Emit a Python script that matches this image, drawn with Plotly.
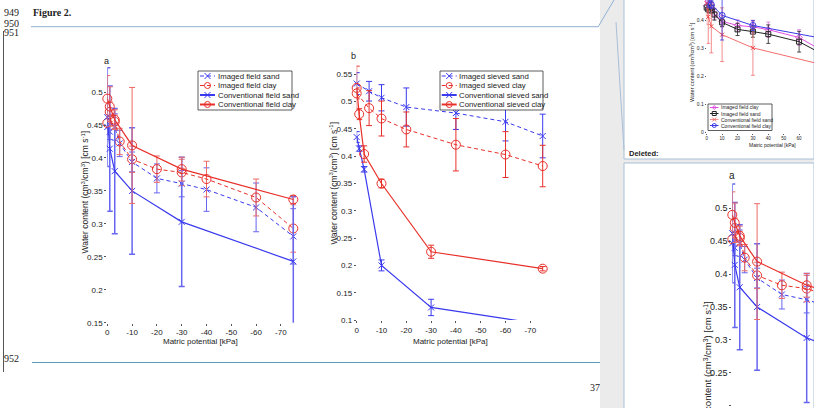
import plotly.graph_objects as go

W, H = 814, 408

# ---------------- Panel a : field samples ----------------
X_A_IMAGED = [0, -1, -3, -5, -10, -20, -30, -40, -60, -75]
X_A_CONV = [0, -1, -3, -10, -30, -75]
A_IMAGED_SAND = [0.447, 0.440, 0.447, 0.422, 0.394, 0.369, 0.361, 0.352, 0.325, 0.281]
A_IMAGED_SAND_ERR = [0.012, 0.012, 0.020, 0.020, 0.015, 0.022, 0.020, 0.033, 0.037, 0.042]
A_IMAGED_CLAY = [0.453, 0.470, 0.455, 0.425, 0.398, 0.383, 0.378, 0.368, 0.340, 0.293]
A_IMAGED_CLAY_ERR = [0.010, 0.015, 0.010, 0.020, 0.020, 0.020, 0.020, 0.027, 0.028, 0.036]
A_CONV_SAND = [0.462, 0.414, 0.380, 0.350, 0.303, 0.243]
A_CONV_SAND_ERR = [0.075, 0.095, 0.095, 0.096, 0.098, 0.098]
A_CONV_CLAY = [0.490, 0.478, 0.458, 0.419, 0.383, 0.337]
A_CONV_CLAY_ERR = [0.035, 0.030, 0.015, 0.088, 0.018, 0.006]
A_NAMES = ["Imaged field sand", "Imaged field clay", "Conventional field sand", "Conventional field clay"]

# ---------------- Panel b : sieved samples ----------------
X_B_IMAGED = [0, -5, -10, -20, -40, -60, -75]
X_B_CONV = [0, -1, -3, -10, -30, -75]
B_IMAGED_SAND = [0.533, 0.519, 0.507, 0.490, 0.479, 0.463, 0.437]
B_IMAGED_SAND_ERR = [0.020, 0.018, 0.024, 0.035, 0.030, 0.035, 0.040]
B_IMAGED_CLAY = [0.515, 0.488, 0.469, 0.449, 0.421, 0.403, 0.382]
B_IMAGED_CLAY_ERR = [0.010, 0.032, 0.032, 0.032, 0.048, 0.042, 0.038]
B_CONV_SAND = [0.435, 0.414, 0.376, 0.200, 0.123, 0.092]
B_CONV_SAND_ERR = [0.010, 0.005, 0.005, 0.010, 0.015, 0.002]
B_CONV_CLAY = [0.525, 0.477, 0.404, 0.350, 0.225, 0.194]
B_CONV_CLAY_ERR = [0.040, 0.010, 0.015, 0.008, 0.012, 0.004]
B_NAMES = ["Imaged sieved sand", "Imaged sieved clay", "Conventional sieved sand", "Conventional sieved clay"]

# ---------------- tick labels ----------------
X_TICKS = [0, -10, -20, -30, -40, -50, -60, -70]
X_TICK_LABELS = ["0", "-10", "-20", "-30", "-40", "-50", "-60", "-70"]
Y_TICKS_A = [0.15, 0.2, 0.25, 0.3, 0.35, 0.4, 0.45, 0.5]
Y_TICK_LABELS_A = ["0.15", "0.2", "0.25", "0.3", "0.35", "0.4", "0.45", "0.5"]
Y_TICKS_B = [0.1, 0.15, 0.2, 0.25, 0.3, 0.35, 0.4, 0.45, 0.5, 0.55]
Y_TICK_LABELS_B = ["0.1", "0.15", "0.2", "0.25", "0.3", "0.35", "0.4", "0.45", "0.5", "0.55"]
# earlier version shown in the comment pane (positive potentials)
OLD_X_TICKS = [0, 10, 20, 30, 40, 50, 60]
OLD_X_TICK_LABELS = ["0", "10", "20", "30", "40", "50", "60"]
OLD_Y_TICKS = [0, 0.1, 0.2, 0.3, 0.4]
OLD_Y_TICK_LABELS = ["0", "0.1", "0.2", "0.3", "0.4"]
OLD_NAMES = ["Imaged field clay", "Imaged field sand", "Conventional field sand", "Conventional field clay"]

FONT = "Liberation Sans, Arial, sans-serif"
TICKFONT = "Liberation Sans Narrow, Arial Narrow, Liberation Sans, sans-serif"
SERIF = "Liberation Serif, Times New Roman, serif"
BLUE = "#3a3aee"
BLUE_ERR = "#6666f0"
RED = "#e8302a"
RED_ERR = "#ee6a66"
DASH = "4px,3px"


def px(x):
    return x / W


def py(y):
    return 1 - y / H


fig = go.Figure()


def series(x, y, err, xa, ya, color, ecolor, dash, width, symbol, msize, ewidth=1.0, ecap=3):
    fig.add_trace(go.Scatter(
        x=x, y=y, xaxis=xa, yaxis=ya, mode="lines+markers",
        line=dict(color=color, width=width, dash=dash),
        marker=dict(symbol=symbol, size=msize, color=color, line=dict(width=1, color=color)),
        error_y=dict(type="data", array=err, visible=True, color=ecolor, thickness=ewidth, width=ecap),
        cliponaxis=False, showlegend=False, hoverinfo="skip"))


def neg(v):
    return [-a for a in v]


# panel a
series(X_A_IMAGED, A_IMAGED_SAND, A_IMAGED_SAND_ERR, "x", "y", BLUE, BLUE_ERR, DASH, 1, "x-thin", 6)
series(X_A_IMAGED, A_IMAGED_CLAY, A_IMAGED_CLAY_ERR, "x", "y", RED, RED_ERR, DASH, 1, "circle-open", 9)
series(X_A_CONV, A_CONV_SAND, A_CONV_SAND_ERR, "x", "y", BLUE, BLUE_ERR, "solid", 1.2, "x-thin", 6, 1.5)
series(X_A_CONV, A_CONV_CLAY, A_CONV_CLAY_ERR, "x", "y", RED, RED_ERR, "solid", 1.2, "circle-open", 9)
# panel b
series(X_B_IMAGED, B_IMAGED_SAND, B_IMAGED_SAND_ERR, "x2", "y2", BLUE, BLUE, DASH, 1, "x-thin", 6)
series(X_B_IMAGED, B_IMAGED_CLAY, B_IMAGED_CLAY_ERR, "x2", "y2", RED, RED, DASH, 1, "circle-open", 9)
series(X_B_CONV, B_CONV_SAND, B_CONV_SAND_ERR, "x2", "y2", BLUE, BLUE, "solid", 1.2, "x-thin", 6)
series(X_B_CONV, B_CONV_CLAY, B_CONV_CLAY_ERR, "x2", "y2", RED, RED, "solid", 1.2, "circle-open", 9)
# comment pane, earlier version (top right)
series(neg(X_A_IMAGED), A_IMAGED_CLAY, A_IMAGED_CLAY_ERR, "x3", "y3", "#e050e0", "#e070e0", "solid", 1, "diamond-open", 5, 0.8, 2)
series(neg(X_A_IMAGED), A_IMAGED_SAND, A_IMAGED_SAND_ERR, "x3", "y3", "#222222", "#222222", "solid", 1, "square-open", 5, 0.8, 2)
series(neg(X_A_CONV), A_CONV_SAND, A_CONV_SAND_ERR, "x3", "y3", "#f04848", "#f07070", "solid", 0.8, "x-thin", 4, 0.8, 2)
series(neg(X_A_CONV), A_CONV_CLAY, A_CONV_CLAY_ERR, "x3", "y3", "#3a3ae8", "#3a3ae8", "solid", 1, "circle-open", 6, 0.8, 2)
# comment pane, panel a again (bottom right)
series(X_A_IMAGED, A_IMAGED_SAND, A_IMAGED_SAND_ERR, "x4", "y4", BLUE, BLUE_ERR, DASH, 1, "x-thin", 6)
series(X_A_IMAGED, A_IMAGED_CLAY, A_IMAGED_CLAY_ERR, "x4", "y4", RED, RED_ERR, DASH, 1, "circle-open", 9)
series(X_A_CONV, A_CONV_SAND, A_CONV_SAND_ERR, "x4", "y4", BLUE, BLUE_ERR, "solid", 1.2, "x-thin", 6, 1.5)
series(X_A_CONV, A_CONV_CLAY, A_CONV_CLAY_ERR, "x4", "y4", RED, RED_ERR, "solid", 1.2, "circle-open", 9)


def ax(domain, rng, tv, tt, fsize, anchor, ticklen=2, show=True):
    return dict(domain=domain, range=rng, tickvals=tv, ticktext=tt, anchor=anchor,
                showline=False, showgrid=False, zeroline=False, ticks="outside",
                ticklen=ticklen, tickwidth=1, tickcolor="#555", automargin=False,
                showticklabels=show,
                tickfont=dict(family=TICKFONT, size=fsize, color="#222"), fixedrange=True)


# pixel geometry of each panel
A_X0, A_SCALE = 107.3, 2.48          # px of x=0, px per kPa
A_Y0, A_YS = 92.0, 658.0             # px of y=0.5, px per unit
B_X0, B_Y0, B_YS = 356.7, 74.3, 546.0  # px of x=0, px of y=0.55, px per unit
S_X0, S_Y0 = 732.3, 208.3            # side copy of panel a
O_X0, O_XS, O_Y0, O_YS = 706.7, 1.54, 132.7, 280.0  # earlier version

layout_axes = dict(
    xaxis=ax([px(A_X0), px(296)], [0, -(296 - A_X0) / A_SCALE], X_TICKS, X_TICK_LABELS, 8, "y"),
    yaxis=ax([py(322.7), py(59.5)], [0.15, 0.5 + (A_Y0 - 59.5) / A_YS], Y_TICKS_A, Y_TICK_LABELS_A, 8, "x"),
    xaxis2=ax([px(B_X0), px(546)], [0, -(546 - B_X0) / A_SCALE], X_TICKS, X_TICK_LABELS, 8, "y2"),
    yaxis2=ax([py(320), py(60.7)], [0.55 - (320 - B_Y0) / B_YS, 0.55 + (B_Y0 - 60.7) / B_YS], Y_TICKS_B, Y_TICK_LABELS_B, 8, "x2"),
    xaxis3=ax([px(O_X0), 1.0], [0, (814 - O_X0) / O_XS], OLD_X_TICKS, OLD_X_TICK_LABELS, 4.5, "y3", 1),
    yaxis3=ax([py(O_Y0), 1.0], [0, O_Y0 / O_YS], OLD_Y_TICKS, OLD_Y_TICK_LABELS, 5, "x3", 1),
    xaxis4=ax([px(S_X0), 1.0], [0, -(814 - S_X0) / A_SCALE], X_TICKS, X_TICK_LABELS, 9, "y4", 3, False),
    yaxis4=ax([0.0, py(168)], [0.5 - (408 - S_Y0) / A_YS, 0.5 + (S_Y0 - 168) / A_YS], Y_TICKS_A, Y_TICK_LABELS_A, 9, "x4", 2),
)

shapes = []
annotations = []


def line(x0, y0, x1, y1, color, width=1, dash="solid", layer="above"):
    shapes.append(dict(type="line", xref="paper", yref="paper", x0=px(x0), y0=py(y0), x1=px(x1), y1=py(y1),
                       line=dict(color=color, width=width, dash=dash), layer=layer))


def rect(x0, y0, x1, y1, fill, lc=None, lw=1, layer="below"):
    shapes.append(dict(type="rect", xref="paper", yref="paper", x0=px(x0), y0=py(y1), x1=px(x1), y1=py(y0),
                       fillcolor=fill, line=dict(color=lc or fill, width=lw if lc else 0), layer=layer))


def text(x, y, s, size, family=FONT, xanchor="center", angle=0, color="#222"):
    annotations.append(dict(x=px(x), y=py(y), xref="paper", yref="paper", text=s, showarrow=False,
                            font=dict(family=family, size=size, color=color), xanchor=xanchor,
                            yanchor="middle", textangle=angle, borderpad=0))


def marker_shape(cx, cy, kind, r, color):
    if kind == "x":
        line(cx - r, cy - r, cx + r, cy + r, color)
        line(cx - r, cy + r, cx + r, cy - r, color)
    elif kind == "o":
        shapes.append(dict(type="circle", xref="paper", yref="paper", x0=px(cx - r), x1=px(cx + r),
                           y0=py(cy + r), y1=py(cy - r), line=dict(color=color, width=1), layer="above"))
    elif kind == "s":
        shapes.append(dict(type="rect", xref="paper", yref="paper", x0=px(cx - r), x1=px(cx + r),
                           y0=py(cy + r), y1=py(cy - r), line=dict(color=color, width=1), layer="above"))
    elif kind == "d":
        path = "M %f,%f L %f,%f L %f,%f L %f,%f Z" % (px(cx), py(cy - r), px(cx + r), py(cy), px(cx), py(cy + r), px(cx - r), py(cy))
        shapes.append(dict(type="path", xref="paper", yref="paper", path=path,
                           line=dict(color=color, width=1), layer="above"))


def legend(box, rows, sx0, sx1, tx, entries, names, r, fsize):
    x0, y0, x1, y1 = box
    rect(x0, y0, x1, y1, "white", "#333", 0.8, "above")
    for (color, dash, width, kind), name, yy in zip(entries, names, rows):
        line(sx0, yy, sx1, yy, color, width, dash)
        marker_shape((sx0 + sx1) / 2, yy, kind, r, color)
        text(tx, yy, name, fsize, xanchor="left")


ENTRIES = [(BLUE, DASH, 1, "x"), (RED, DASH, 1, "o"), (BLUE, "solid", 2, "x"), (RED, "solid", 2, "o")]
ROWS = [76, 85.5, 95, 104.5]

# ---------------- page background and decorations ----------------
rect(600, 0, 814, 408, "#ebebeb")
rect(624, -10, 814, 159, "white", "#a9bfd8", 1)
rect(624, 163, 814, 420, "white", "#a9bfd8", 1)
line(598, 27, 614, 0, "#8fb0d4", 1, layer="below")
line(616, 22, 624, 150, "#a9bfd8", 1, layer="below")
line(31, 26.7, 598, 26.7, "#8fb0d4", 1)
line(3.5, 31, 3.5, 372, "#555555", 1)
line(32, 362.5, 600, 362.5, "#5b9bb9", 1)
text(3, 12.5, "949", 10, SERIF, "left")
text(32, 12.5, "<b>Figure 2.</b>", 10, SERIF, "left")
text(3, 23.5, "950", 10, SERIF, "left")
text(3, 32.5, "951", 10, SERIF, "left")
text(3, 358, "952", 10, SERIF, "left")
text(594.5, 387, "37", 10, SERIF)
text(628, 153, "<b>Deleted:</b>", 7.5, FONT, "left")

# ---------------- panel texts ----------------
YT = "Water content (cm<sup>3</sup>/cm<sup>3</sup>) [cm s<sup>-1</sup>]"
XT = "Matric potential [kPa]"
text(106.7, 60.5, "a", 9)
text(353, 56.5, "b", 9)
text(85, 192.5, YT, 8.5, angle=-90)
text(333.3, 183.3, YT, 8.5, angle=-90)
text(200.8, 341.5, XT, 8)
text(450.3, 341.5, XT, 8)
text(692, 62, YT, 5.5, angle=-90)
text(772, 144.5, XT, 5)
text(731.7, 175, "a", 10)
text(707.5, 370, YT, 9.5, angle=-90)

legend((198, 71, 292, 110), ROWS, 200, 215, 216.7, ENTRIES, A_NAMES, 3, 7.8)
legend((440, 71, 543, 110), ROWS, 441.7, 456.7, 457.7, ENTRIES, B_NAMES, 3, 7.8)
OLD_ENTRIES = [("#e050e0", "solid", 1, "d"), ("#222222", "solid", 1, "s"), ("#f07070", "solid", 0.8, "x"), ("#3a3ae8", "solid", 1, "o")]
legend((708, 104, 772, 130.5), [107.5, 113.5, 119.5, 125.5], 710, 718.5, 720, OLD_ENTRIES, OLD_NAMES, 2, 5)

fig.update_layout(
    width=W, height=H, margin=dict(l=0, r=0, t=0, b=0, autoexpand=False),
    paper_bgcolor="white", plot_bgcolor="rgba(0,0,0,0)",
    showlegend=False, shapes=shapes, annotations=annotations,
    font=dict(family=FONT, size=8, color="#222"),
    **layout_axes,
)

fig.write_html("out.html", config={"displayModeBar": False},
               post_script="document.body.style.margin='0';document.body.style.overflow='hidden';")
